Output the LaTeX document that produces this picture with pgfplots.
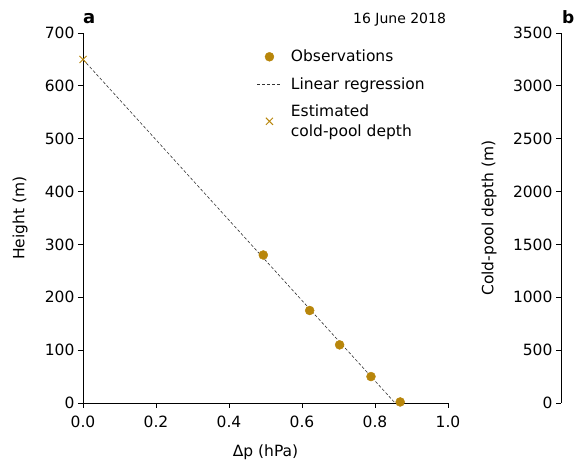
\documentclass[border=0pt]{standalone}
\usepackage{pgfplots}
\pgfplotsset{compat=1.18}
\usepackage{fontspec}
\setmainfont{DejaVu Sans}
\definecolor{gold}{HTML}{B8860B}
\definecolor{lgray}{HTML}{333333}
\newcommand{\fs}{\fontsize{15.5}{20}\selectfont}
\begin{document}
\begin{tikzpicture}[x=1pt,y=1pt]
\pgfplotsset{
  /pgf/number format/assume math mode=true,
  /pgf/number format/1000 sep={},
}
\begin{axis}[
  at={(83pt,62pt)}, anchor=south west,
  scale only axis, width=365pt, height=370pt,
  xmin=0, xmax=1.0, ymin=0, ymax=700,
  axis lines=left, axis line style={-, line width=0.9pt},
  xtick={0,0.2,...,1.0}, ytick={0,100,...,700},
  tick label style={font=\fs},
  label style={font=\fs},
  xticklabel style={yshift=-4pt, /pgf/number format/.cd,fixed,fixed zerofill,precision=1},
  tick align=outside, major tick length=5pt,
  tick style={line width=0.9pt, black},
  clip=false,
  xlabel={Δp (hPa)}, ylabel={Height (m)},
  xlabel style={at={(axis description cs:0.5,0)}, anchor=center, yshift=-49pt},
  ylabel style={at={(axis description cs:0,0.5)}, anchor=center, yshift=63pt},
  legend style={draw=none, fill=none, at={(rel axis cs:0.468,0.965)}, anchor=north west,
    font=\fs, row sep=10pt, column sep=7pt,
    legend cell align=left, nodes={align=left}},
]
\addplot[only marks, mark=*, mark size=4.5pt, color=gold,
  legend image code/.code={\path (0pt,0pt) (24pt,0pt); \draw[gold, fill=gold, mark=*, mark size=4.5pt] plot coordinates {(12pt,0pt)};}] coordinates {
(0.494,280) (0.621,175) (0.703,110) (0.789,50) (0.869,2)};
\addlegendentry{Observations}
\addplot[densely dashed, lgray, line width=0.6pt, no marks,
  legend image code/.code={\draw[densely dashed, lgray, line width=0.6pt] (0pt,0pt) -- (24pt,0pt);}] coordinates {(0,650) (0.855,0)};
\addlegendentry{Linear regression}
\addplot[only marks, mark=x, mark size=5pt, color=gold, line width=0.9pt,
  legend image code/.code={\path (0pt,0pt) (24pt,0pt); \draw[gold, line width=0.9pt, mark=x, mark size=5pt] plot coordinates {(12pt,0pt)};}] coordinates {(0,650)};
\addlegendentry{Estimated\\cold-pool depth}
\node[anchor=base west, font=\fontsize{18}{19}\bfseries\selectfont, inner sep=0pt] at ([yshift=9pt]rel axis cs:0,1) {a};
\node[anchor=base east, font=\fontsize{14}{16}\selectfont, inner sep=0pt] at ([yshift=9pt]rel axis cs:0.995,1) {16 June 2018};
\end{axis}
\begin{axis}[
  at={(561pt,62pt)}, anchor=south west,
  scale only axis, width=365pt, height=370pt,
  xmin=0, xmax=1, ymin=0, ymax=3500,
  axis y line=left, axis x line=none,
  axis line style={-, line width=0.9pt},
  ytick={0,500,...,3500},
  tick label style={font=\fs},
  label style={font=\fs},
  tick align=outside, major tick length=5pt,
  tick style={line width=0.9pt, black},
  ylabel={Cold-pool depth (m)},
  ylabel style={at={(axis description cs:0,0.5)}, anchor=center, yshift=72pt},
  clip=false,
]
\node[anchor=base west, font=\fontsize{17}{18}\bfseries\selectfont, inner sep=0pt] at ([xshift=1pt,yshift=9pt]rel axis cs:0,1) {b};
\end{axis}
\pgfresetboundingbox
\useasboundingbox (0,0) rectangle (574,465);
\end{tikzpicture}
\end{document}
